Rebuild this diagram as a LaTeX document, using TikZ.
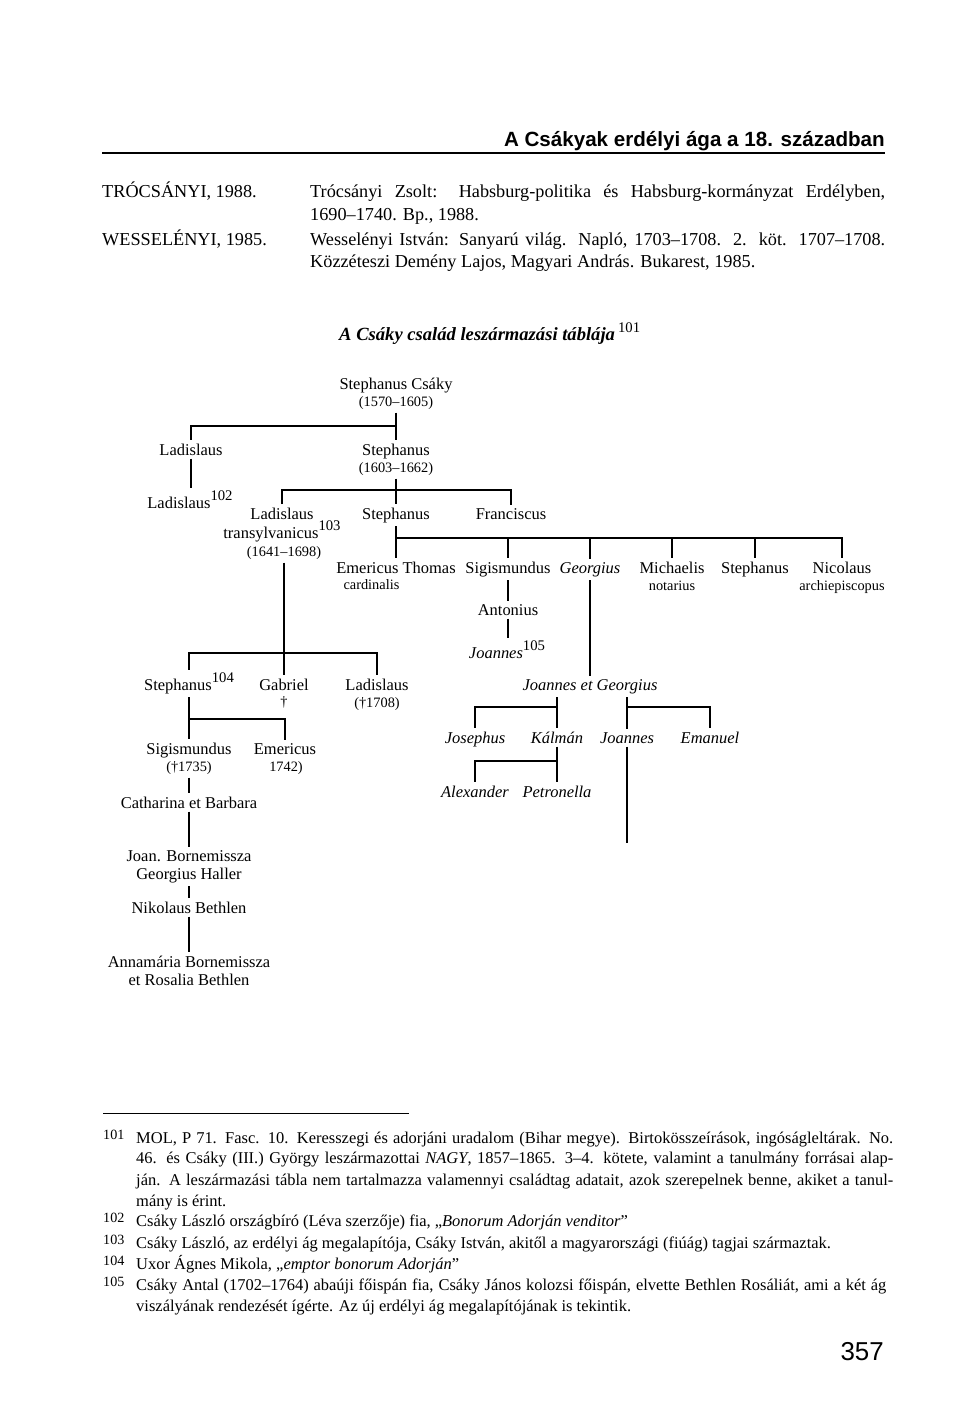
\documentclass[tikz,border=0pt]{standalone}
\usepackage{fontspec}
\setmainfont{Liberation Serif}
\newfontfamily\headfont{Liberation Sans}
\usepackage{tikz}

\newlength\pxu
\setlength\pxu{0.85pt}
\newcommand\supno[1]{\raisebox{6pt}{\normalfont\fontsize{12.5}{12.5}\selectfont #1}}
\newcommand\notenum[1]{\raisebox{3pt}{\normalfont\fontsize{12}{12}\selectfont #1}}

\begin{document}
\begin{tikzpicture}[x=0.85pt, y=-0.85pt,
    nm/.style={font=\fontsize{14}{16}\selectfont, inner sep=0pt, outer sep=3pt, anchor=base},
    sm/.style={nm, font=\fontsize{12.2}{14}\selectfont},
    it/.style={nm, font=\fontsize{14}{16}\selectfont\itshape},
    bib/.style={font=\fontsize{15.5}{18}\selectfont, inner sep=0pt, anchor=base west},
    fn/.style={font=\fontsize{14}{16}\selectfont, inner sep=0pt, anchor=base west},
    link/.style={line width=1.1pt}]
    \useasboundingbox (0,0) rectangle (960,1420);

    % Running head
    \node[font=\headfont\bfseries\fontsize{17.5}{20}\selectfont, inner sep=0pt, anchor=base east] (head) at (885,146) {A Csákyak erdélyi ága a 18. században};
    \draw[line width=1.8pt] (102,153) -- (head.east |- 0,153);

    % Bibliography
    \node[bib] (trocs) at (102,197) {TRÓCSÁNYI, 1988.};
    \node[bib] (trocsA) at (310,197) {\makebox[575\pxu][s]{Trócsányi Zsolt: Habsburg-politika és Habsburg-kormányzat Erdélyben,}};
    \node[bib] (trocsB) at (310,220) {1690–1740. Bp., 1988.};
    \node[bib] (wess) at (102,245) {WESSELÉNYI, 1985.};
    \node[bib] (wessA) at (310,245) {\makebox[575\pxu][s]{Wesselényi István: Sanyarú világ. Napló, 1703–1708. 2. köt. 1707–1708.}};
    \node[bib] (wessB) at (310,267) {Közzéteszi Demény Lajos, Magyari András. Bukarest, 1985.};

    % Title of the table
    \node[font=\fontsize{15.8}{18}\selectfont\bfseries\itshape, inner sep=0pt, anchor=base west] (title) at (339,340) {A Csáky család leszármazási táblája\,\supno{101}};

    % First generations
    \node[nm] (csaky) at (396,389) {Stephanus Csáky};
    \node[sm] (csakyY) at (396,406) {(1570–1605)};
    \node[nm] (ladA) at (191,455) {Ladislaus};
    \node[nm] (stephB) at (396,455) {Stephanus};
    \node[sm] (stephBY) at (396,472) {(1603–1662)};
    \node[nm] (ladC) at (190,508) {Ladislaus\supno{102}};
    \node[nm] (ladT) at (282,519) {Ladislaus};
    \node[nm] (ladTb) at (282,538) {transylvanicus\supno{103}};
    \node[sm] (ladTY) at (284,556) {(1641–1698)};
    \node[nm] (stephC) at (396,519) {Stephanus};
    \node[nm] (franc) at (511,519) {Franciscus};

    % Children of Franciscus
    \node[nm] (emer) at (396,573) {Emericus Thomas};
    \node[sm, anchor=base west] (emerY) at (340,589) {cardinalis};
    \node[nm] (sigA) at (508,573) {Sigismundus};
    \node[it] (georg) at (590,573) {Georgius};
    \node[nm] (mich) at (672,573) {Michaelis};
    \node[sm] (michY) at (672,590) {notarius};
    \node[nm] (stephD) at (755,573) {Stephanus};
    \node[nm] (nicol) at (842,573) {Nicolaus};
    \node[sm] (nicolY) at (842,590) {archiepiscopus};
    \node[nm] (anton) at (508,615) {Antonius};
    \node[it] (joanA) at (507,658) {Joannes\supno{105}};
    \node[it] (joge) at (590,690) {Joannes et Georgius};
    \node[it] (joseph) at (475,743) {Josephus};
    \node[it] (kalman) at (557,743) {Kálmán};
    \node[it] (joanB) at (627,743) {Joannes};
    \node[it] (eman) at (710,743) {Emanuel};
    \node[it] (alex) at (475,797) {Alexander};
    \node[it] (petr) at (557,797) {Petronella};
    \coordinate (joanEnd) at (627,843);

    % Transylvanian branch
    \node[nm] (stephE) at (189,690) {Stephanus\supno{104}};
    \node[nm] (gabr) at (284,690) {Gabriel};
    \node[sm] (gabrY) at (284,706) {†};
    \node[nm] (ladD) at (377,690) {Ladislaus};
    \node[sm] (ladDY) at (377,707) {(†1708)};
    \node[nm] (sigB) at (189,754) {Sigismundus};
    \node[sm] (sigBY) at (189,771) {(†1735)};
    \node[nm] (emerB) at (285,754) {Emericus};
    \node[sm] (emerBY) at (286,771) {1742)};
    \node[nm] (cath) at (189,808) {Catharina et Barbara};
    \node[nm] (bornA) at (189,861) {Joan. Bornemissza};
    \node[nm] (haller) at (189,879) {Georgius Haller};
    \node[nm] (nikol) at (189,913) {Nikolaus Bethlen};
    \node[nm] (anna) at (189,967) {Annamária Bornemissza};
    \node[nm] (rosal) at (189,985) {et Rosalia Bethlen};

    % Bars of the tree
    \coordinate (barA) at (396,426);
    \coordinate (barB) at (396,490);
    \coordinate (barC) at (396,538);
    \coordinate (barD) at (284,653);
    \coordinate (barE) at (189,719);
    \coordinate (barF) at (557,707);
    \coordinate (barG) at (627,707);
    \coordinate (barH) at (557,761);

    \draw[link] (csakyY.south) -- (stephB.north);
    \draw[link] (barA) -| (ladA.north);
    \draw[link] (ladA.south) -- (ladA.south |- ladC.north);
    \draw[link] (stephBY.south) -- (stephC.north);
    \draw[link] (ladT.north) |- (barB) -| (franc.north);
    \draw[link] (stephC.south) -- (emer.north);
    \draw[link] (barC) -| (nicol.north);
    \foreach \k in {sigA, georg, mich, stephD}
        \draw[link] (barC -| \k.north) -- (\k.north);
    \draw[link] (sigA.south) -- (anton.north);
    \draw[link] (anton.south) -- (anton.south |- joanA.north);
    \draw[link] (georg.south) -- (joge.north);
    \draw[link] (joge.south -| kalman) -- (kalman.north);
    \draw[link] (barF) -| (joseph.north);
    \draw[link] (joge.south -| joanB) -- (joanB.north);
    \draw[link] (barG) -| (eman.north);
    \draw[link] (kalman.south) -- (petr.north);
    \draw[link] (barH) -| (alex.north);
    \draw[link] (joanB.south) -- (joanEnd);
    \draw[link] (ladTY.south) -- (ladTY.south |- gabr.north);
    \draw[link] (stephE.north) |- (barD) -| (ladD.north);
    \draw[link] (stephE.south) -- (stephE.south |- sigB.north);
    \draw[link] (barE) -| (emerB.north);
    \draw[link] (sigBY.south) -- (cath.north);
    \draw[link] (cath.south) -- (bornA.north);
    \draw[link] (haller.south) -- (nikol.north);
    \draw[link] (nikol.south) -- (anna.north);

    % Footnotes
    \draw[line width=0.8pt] (103,1113) -- (409,1113);
    \node[fn] (n101) at (103,1143) {\notenum{101}};
    \node[fn] (f1) at (136,1143) {\makebox[757\pxu][s]{MOL, P 71. Fasc. 10. Keresszegi és adorjáni uradalom (Bihar megye). Birtokösszeírások, ingóságleltárak. No.}};
    \node[fn] (f2) at (136,1163) {\makebox[757\pxu][s]{46. és Csáky (III.) György leszármazottai \textit{NAGY}, 1857–1865. 3–4. kötete, valamint a tanulmány forrásai alap-}};
    \node[fn] (f3) at (136,1185) {\makebox[757\pxu][s]{ján. A leszármazási tábla nem tartalmazza valamennyi családtag adatait, azok szerepelnek benne, akiket a tanul-}};
    \node[fn] (f4) at (136,1206) {mány is érint.};
    \node[fn] (n102) at (103,1226) {\notenum{102}};
    \node[fn] (f5) at (136,1226) {Csáky László országbíró (Léva szerzője) fia, „\textit{Bonorum Adorján venditor}”};
    \node[fn] (n103) at (103,1248) {\notenum{103}};
    \node[fn] (f6) at (136,1248) {Csáky László, az erdélyi ág megalapítója, Csáky István, akitől a magyarországi (fiúág) tagjai származtak.};
    \node[fn] (n104) at (103,1269) {\notenum{104}};
    \node[fn] (f7) at (136,1269) {Uxor Ágnes Mikola, „\textit{emptor bonorum Adorján}”};
    \node[fn] (n105) at (103,1290) {\notenum{105}};
    \node[fn] (f8) at (136,1290) {\makebox[750\pxu][s]{Csáky Antal (1702–1764) abaúji főispán fia, Csáky János kolozsi főispán, elvette Bethlen Rosáliát, ami a két ág}};
    \node[fn] (f9) at (136,1311) {viszályának rendezését ígérte. Az új erdélyi ág megalapítójának is tekintik.};

    % Page number
    \node[font=\headfont\fontsize{22}{24}\selectfont, inner sep=0pt, anchor=base east] (page) at (884,1360) {357};
\end{tikzpicture}
\end{document}
